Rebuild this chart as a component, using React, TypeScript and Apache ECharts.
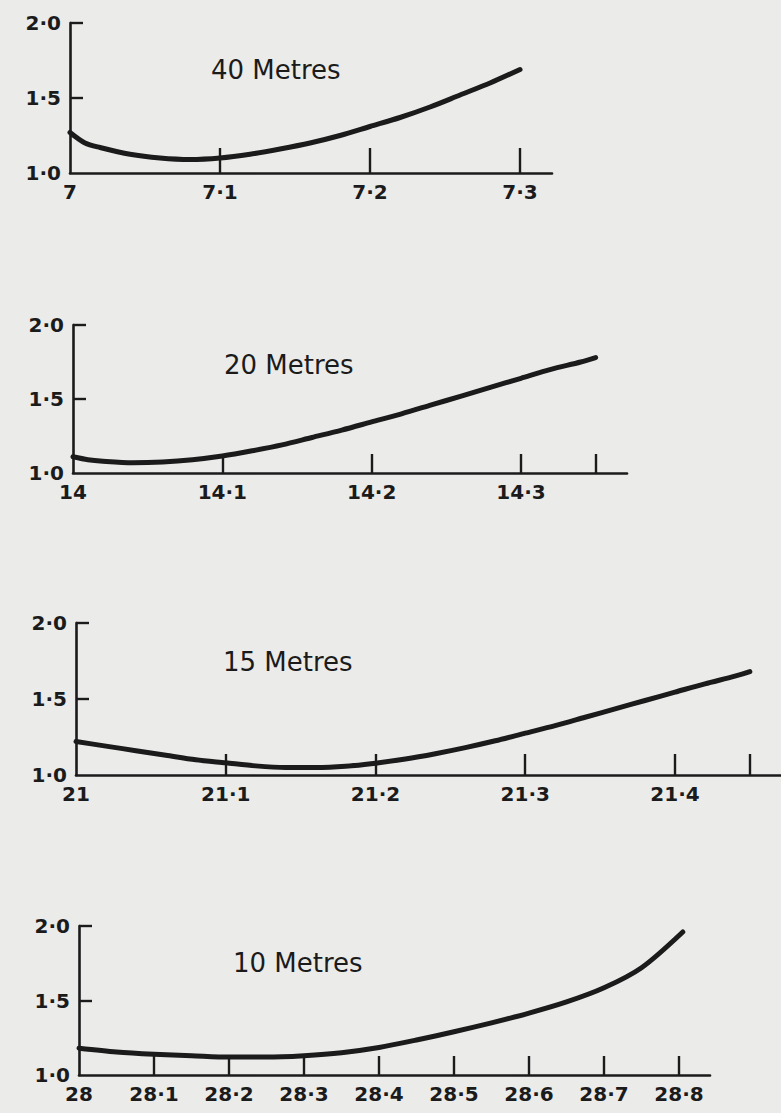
import React, { useEffect, useRef } from "react";
import * as echarts from "echarts";

// ---- data ----
const titles = ["40 Metres", "20 Metres", "15 Metres", "10 Metres"];

const x40 = [7.0, 7.01, 7.02, 7.04, 7.06, 7.08, 7.1, 7.12, 7.14, 7.16, 7.18, 7.2, 7.22, 7.24, 7.26, 7.28, 7.3];
const y40 = [1.27, 1.2, 1.17, 1.125, 1.1, 1.09, 1.1, 1.125, 1.16, 1.2, 1.25, 1.31, 1.37, 1.44, 1.52, 1.6, 1.69];

const x20 = [14.0, 14.01, 14.02, 14.04, 14.06, 14.08, 14.1, 14.12, 14.14, 14.16, 14.18, 14.2, 14.22, 14.24, 14.26, 14.28, 14.3, 14.32, 14.34, 14.35];
const y20 = [1.11, 1.09, 1.08, 1.07, 1.075, 1.09, 1.115, 1.15, 1.19, 1.24, 1.29, 1.345, 1.4, 1.46, 1.52, 1.58, 1.64, 1.7, 1.75, 1.78];

const x15 = [21.0, 21.02, 21.04, 21.06, 21.08, 21.1, 21.12, 21.14, 21.16, 21.18, 21.2, 21.22, 21.24, 21.26, 21.28, 21.3, 21.32, 21.34, 21.36, 21.38, 21.4, 21.42, 21.44, 21.45];
const y15 = [1.22, 1.19, 1.16, 1.13, 1.1, 1.08, 1.06, 1.05, 1.05, 1.058, 1.078, 1.105, 1.14, 1.18, 1.225, 1.275, 1.325, 1.38, 1.435, 1.49, 1.545, 1.6, 1.65, 1.68];

const x10 = [28.0, 28.05, 28.1, 28.15, 28.2, 28.25, 28.3, 28.35, 28.4, 28.45, 28.5, 28.55, 28.6, 28.65, 28.7, 28.75, 28.805];
const y10 = [1.18, 1.155, 1.14, 1.13, 1.12, 1.12, 1.13, 1.15, 1.185, 1.235, 1.29, 1.35, 1.415, 1.49, 1.585, 1.72, 1.96];

const xLabels40 = [7, 7.1, 7.2, 7.3];
const xLabels20 = [14, 14.1, 14.2, 14.3];
const xLabels15 = [21, 21.1, 21.2, 21.3, 21.4];
const xLabels10 = [28, 28.1, 28.2, 28.3, 28.4, 28.5, 28.6, 28.7, 28.8];

const xTicks40 = [7.1, 7.2, 7.3];
const xTicks20 = [14.1, 14.2, 14.3, 14.35];
const xTicks15 = [21.1, 21.2, 21.3, 21.4, 21.45];
const xTicks10 = [28.1, 28.2, 28.3, 28.4, 28.5, 28.6, 28.7, 28.8];

const yLabels = [1.0, 1.5, 2.0];
const yTicks = [1.5, 2.0];

// ---- layout ----
const INK = "#1b1b1b";
const BG = "#ebebea";
const FONT = "DejaVu Sans";

const panels = [
  { xs: x40, ys: y40, xl: xLabels40, xt: xTicks40, min: 7, max: 7.3213, left: 70, top: 23, width: 482, height: 150, tick: 25, tx: 211, ty: 70 },
  { xs: x20, ys: y20, xl: xLabels20, xt: xTicks20, min: 14, max: 14.371, left: 73, top: 325, width: 554, height: 148, tick: 19, tx: 224, ty: 365 },
  { xs: x15, ys: y15, xl: xLabels15, xt: xTicks15, min: 21, max: 21.4708, left: 76, top: 623, width: 705, height: 152, tick: 21, tx: 223, ty: 662 },
  { xs: x10, ys: y10, xl: xLabels10, xt: xTicks10, min: 28, max: 28.8413, left: 79, top: 926, width: 631, height: 149, tick: 19, tx: 233, ty: 963 },
];

const fmtX = (v: number) =>
  Math.abs(v - Math.round(v)) < 1e-6 ? String(Math.round(v)) : v.toFixed(1).replace(".", "·");
const fmtY = (v: number) => v.toFixed(1).replace(".", "·");

export default function App() {
  const ref = useRef<HTMLDivElement>(null);

  useEffect(() => {
    document.body.style.margin = "0";
    document.body.style.background = BG;
    if (!ref.current) return;
    const chart = echarts.init(ref.current, undefined, { renderer: "svg" });

    const grid = panels.map((p) => ({
      left: p.left,
      top: p.top,
      width: p.width,
      height: p.height,
      containLabel: false,
      outerBoundsMode: "none",
    }));

    const labelStyle = {
      color: INK,
      fontFamily: FONT,
      fontSize: 20,
      fontWeight: "bold",
    };

    const xAxis = panels.map((p, i) => ({
      type: "value",
      gridIndex: i,
      min: p.min,
      max: p.max,
      splitLine: { show: false },
      axisLine: { show: true, onZero: false, lineStyle: { color: INK, width: 2.6 } },
      axisTick: {
        show: true,
        inside: true,
        length: p.tick,
        customValues: p.xt,
        lineStyle: { color: INK, width: 2.4 },
      },
      axisLabel: {
        show: true,
        customValues: p.xl,
        formatter: (v: number) => fmtX(v),
        margin: 9,
        ...labelStyle,
      },
    }));

    const yAxis = panels.map((p, i) => ({
      type: "value",
      gridIndex: i,
      min: 1,
      max: 2,
      interval: 0.5,
      splitLine: { show: false },
      axisLine: { show: true, onZero: false, lineStyle: { color: INK, width: 2.6 } },
      axisTick: {
        show: true,
        inside: true,
        length: 13,
        customValues: yTicks,
        lineStyle: { color: INK, width: 2.4 },
      },
      axisLabel: {
        show: true,
        customValues: yLabels,
        formatter: (v: number) => fmtY(v),
        margin: 9,
        ...labelStyle,
      },
    }));

    const series = panels.map((p, i) => ({
      type: "line",
      xAxisIndex: i,
      yAxisIndex: i,
      data: p.xs.map((x, k) => [x, p.ys[k]]),
      smooth: 0.3,
      showSymbol: false,
      symbol: "none",
      lineStyle: { color: INK, width: 5, cap: "round", join: "round" },
      z: 3,
    }));

    const graphic = panels.map((p, i) => ({
      type: "text",
      x: p.tx,
      y: p.ty,
      style: {
        text: titles[i],
        fill: INK,
        font: `26px "${FONT}"`,
        textVerticalAlign: "middle",
        verticalAlign: "middle",
      },
    }));

    chart.setOption({
      animation: false,
      backgroundColor: BG,
      grid,
      xAxis,
      yAxis,
      series,
      graphic,
    } as any);

    return () => chart.dispose();
  }, []);

  return (
    <div
      ref={ref}
      style={{ position: "absolute", left: 0, top: 0, width: 781, height: 1113, background: BG }}
    />
  );
}
